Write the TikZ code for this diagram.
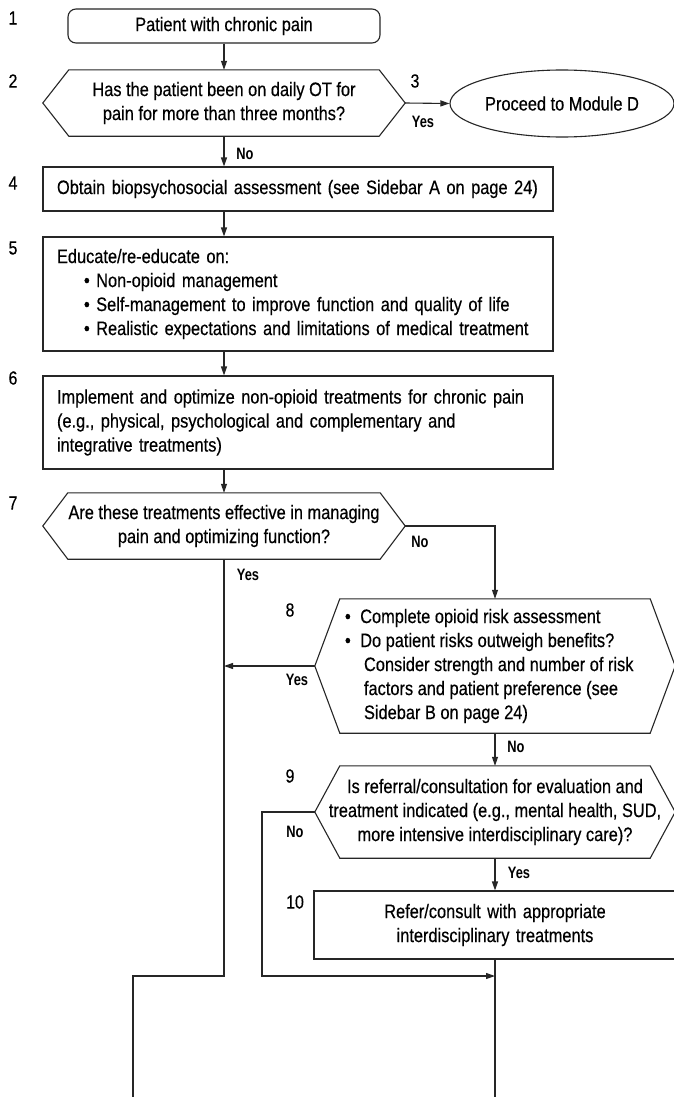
\documentclass[tikz,border=0pt]{standalone}
\usepackage{fontspec}
\setmainfont{Liberation Sans}[FakeStretch=0.84, FakeBold=0.4]
\newfontfamily\tagfont{Liberation Sans}[FakeStretch=0.78]
\usetikzlibrary{arrows.meta,shapes.geometric}

% hexagonal decision outline around a rectangular node; #2 = depth of the side points
\newcommand\hexoutline[2]{%
  \draw[line] (#1.north west) -- (#1.north east) -- ([xshift=#2]#1.east)
    -- (#1.south east) -- (#1.south west) -- ([xshift=-#2]#1.west) -- cycle;
  \coordinate (#1w) at ([xshift=-#2]#1.west);
  \coordinate (#1e) at ([xshift=#2]#1.east);}

\begin{document}
\begin{tikzpicture}[x=1pt,y=-1pt,
  line/.style={line width=1.1pt, draw=black!85},
  arr/.style={line, -{Triangle[length=9pt,width=6pt]}},
  base/.style={font=\fontsize{19.5}{24}\selectfont, inner sep=0pt},
  startbox/.style={base, draw=black!85, line width=1.1pt, rounded corners=8pt,
    minimum width=312pt, minimum height=34pt},
  stepbox/.style={base, draw=black!85, line width=1.1pt, inner xsep=14pt, align=left},
  hexframe/.style={inner sep=0pt, minimum width=#1},
  hextext/.style={base, align=center},
  endoval/.style={base, draw=black!85, line width=1.1pt, ellipse,
    minimum width=224pt, minimum height=67pt},
  num/.style={font=\fontsize{19}{22}\selectfont, inner sep=0pt},
  tag/.style={font=\tagfont\bfseries\fontsize{16.5}{18}\selectfont, inner sep=0pt},
]
\fill[white] (0,0) rectangle (673,1100);
\useasboundingbox (0,0) rectangle (673,1100);

% ---- boxes ----
\node[startbox] (n1) at (224,26) {Patient with chronic pain};

\node[hexframe=310pt, minimum height=66pt] (h2) at (224,103) {};
\hexoutline{h2}{26pt}
\node[hextext] (h2t) at (h2.center)
  {Has the patient been on daily OT for\\pain for more than three months?};

\node[endoval] (d3) at (562,103.5) {Proceed to Module D};

\node[stepbox, text width=482pt, minimum height=44pt] (b4) at (298,189)
  {Obtain biopsychosocial assessment (see Sidebar A on page 24)};

\node[stepbox, text width=482pt, minimum height=114pt] (b5) at (298,294)
  {Educate/re-educate on:\\
   \hspace*{27pt}• Non-opioid management\\
   \hspace*{27pt}• Self-management to improve function and quality of life\\
   \hspace*{27pt}• Realistic expectations and limitations of medical treatment};

\node[stepbox, text width=482pt, minimum height=93pt] (b6) at (298,422.5)
  {Implement and optimize non-opioid treatments for chronic pain\\
   (e.g., physical, psychological and complementary and\\
   integrative treatments)};

\node[hexframe=312pt, minimum height=66pt] (h7) at (224,526) {};
\hexoutline{h7}{25pt}
\node[hextext] (h7t) at (h7.center)
  {Are these treatments effective in managing\\pain and optimizing function?};

\node[hexframe=310pt, minimum height=134pt] (h8) at (495,666) {};
\hexoutline{h8}{25pt}
\node[base, align=left, anchor=west] (h8t) at ([xshift=5pt]h8.west)
  {•\hspace{9.5pt}Complete opioid risk assessment\\
   •\hspace{9.5pt}Do patient risks outweigh benefits?\\
   \hspace*{19pt}Consider strength and number of risk\\
   \hspace*{19pt}factors and patient preference (see\\
   \hspace*{19pt}Sidebar B on page 24)};

\node[hexframe=310pt, minimum height=92pt] (h9) at (495,812) {};
\hexoutline{h9}{25pt}
\node[hextext] (h9t) at (h9.center)
  {Is referral/consultation for evaluation and\\
   treatment indicated (e.g., mental health, SUD,\\
   more intensive interdisciplinary care)?};

\node[stepbox, align=center, text width=334pt, minimum height=68pt] (b10) at (495,925)
  {Refer/consult with appropriate\\interdisciplinary treatments};

% ---- step numbers ----
\node[num] (s1) at (13,18) {1};
\node[num] (s2) at (13,81) {2};
\node[num] (s3) at (415,81) {3};
\node[num] (s4) at (13,183) {4};
\node[num] (s5) at (13,248) {5};
\node[num] (s6) at (13,378) {6};
\node[num] (s7) at (13,503) {7};
\node[num] (s8) at (290,610) {8};
\node[num] (s9) at (290,776) {9};
\node[num] (s10) at (295,902) {10};

% ---- branch labels ----
\node[tag] (y2) at (423,122) {Yes};
\node[tag] (n2) at (245,154) {No};
\node[tag] (n7) at (420,542) {No};
\node[tag] (y7) at (248,575) {Yes};
\node[tag] (y8) at (297,680) {Yes};
\node[tag] (n8) at (516,747) {No};
\node[tag] (n9) at (295,832) {No};
\node[tag] (y9) at (519,873) {Yes};

% ---- route points ----
\coordinate (bendA) at (224,976);
\coordinate (bendB) at (133,976);
\coordinate (outL) at (133,1097);
\coordinate (bendC) at (262,976);
\coordinate (outR) at (495,1097);

% ---- connectors ----
\draw[arr] (n1.south) -- (h2.north);
\draw[arr] (h2e) -- (d3.west);
\draw[arr] (h2.south) -- (h2.south |- b4.north);
\draw[arr] (h2.south |- b4.south) -- (h2.south |- b5.north);
\draw[arr] (h2.south |- b5.south) -- (h2.south |- b6.north);
\draw[arr] (h2.south |- b6.south) -- (h7.north);
\draw[arr] (h7e) -| (h8.north);
\draw[line] (h7.south) -- (bendA) -- (bendB) -- (outL);
\draw[arr] (h8w) -- (h8w -| h7.south);
\draw[arr] (h8.south) -- (h9.north);
\draw[arr] (h9.south) -- (b10.north);
\draw[arr] (h9w) -| (bendC) -- (bendC -| b10.south);
\draw[line] (b10.south) -- (outR);
\end{tikzpicture}
\end{document}
